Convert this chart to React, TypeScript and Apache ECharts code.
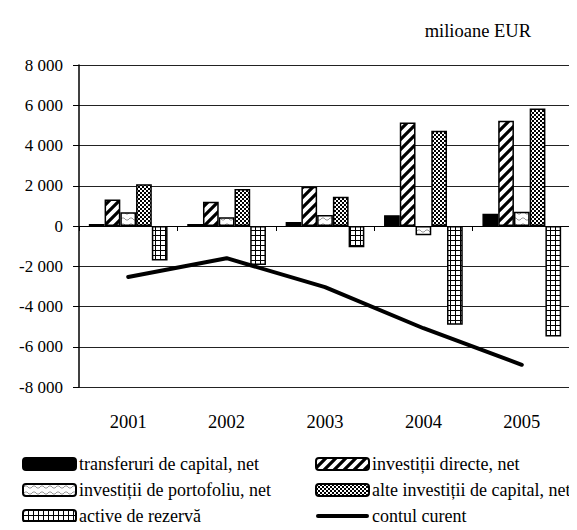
import React, { useEffect, useRef } from "react";
import * as echarts from "echarts";

const years = ["2001", "2002", "2003", "2004", "2005"];
const transferuri = [100, 100, 200, 540, 610];
const directe = [1320, 1210, 1950, 5140, 5225];
const portofoliu = [680, 430, 545, -465, 710];
const alte = [2080, 1835, 1455, 4730, 5835];
const rezerva = [-1720, -1935, -1060, -4910, -5490];
const contul = [-2530, -1600, -3040, -5080, -6895];

const legendLeft = ["transferuri de capital, net", "investiții de portofoliu, net", "active de rezervă"];
const legendRight = ["investiții directe, net", "alte investiții de capital, net", "contul curent"];

const FONT = "Liberation Serif";

function fmt(v: number): string {
  const s = Math.abs(v).toString().replace(/\B(?=(\d{3})+(?!\d))/g, " ");
  return (v < 0 ? "-" : "") + s;
}

function makePattern(w: number, h: number, draw: (c: CanvasRenderingContext2D) => void) {
  const cv = document.createElement("canvas");
  cv.width = w;
  cv.height = h;
  const ctx = cv.getContext("2d")!;
  draw(ctx);
  return { image: cv.toDataURL(), repeat: "repeat", imageWidth: w, imageHeight: h };
}

export default function App() {
  const ref = useRef<HTMLDivElement>(null);
  useEffect(() => {
    if (!ref.current) return;
    const chart = echarts.init(ref.current, null, { renderer: "svg" });

    const stripes = makePattern(10, 10, (c) => {
      c.fillStyle = "#fff";
      c.fillRect(0, 0, 10, 10);
      c.strokeStyle = "#000";
      c.lineWidth = 3.2;
      c.beginPath();
      for (const off of [-10, 0, 10]) {
        c.moveTo(off - 2, 12);
        c.lineTo(off + 12, -2);
      }
      c.stroke();
    });
    const wave = makePattern(8, 6, (c) => {
      c.fillStyle = "#fff";
      c.fillRect(0, 0, 8, 6);
      c.strokeStyle = "#9a9a9a";
      c.lineWidth = 1;
      c.beginPath();
      c.moveTo(0, 4);
      c.lineTo(2, 2);
      c.lineTo(4, 2);
      c.lineTo(6, 4);
      c.lineTo(8, 4);
      c.stroke();
    });
    const checker = makePattern(4, 4, (c) => {
      c.fillStyle = "#fff";
      c.fillRect(0, 0, 4, 4);
      c.fillStyle = "#000";
      c.fillRect(0, 0, 2, 2);
      c.fillRect(2, 2, 2, 2);
    });
    const grid = makePattern(5, 5, (c) => {
      c.fillStyle = "#000";
      c.fillRect(0, 0, 5, 5);
      c.fillStyle = "#fff";
      c.fillRect(1, 1, 4, 4);
    });

    const border = { borderColor: "#000", borderWidth: 1.5 };
    const barBase = {
      type: "bar" as const,
      barGap: "0%",
      barCategoryGap: "20%",
      xAxisIndex: 0,
    };
    const legendCommon = {
      orient: "vertical" as const,
      top: 455,
      itemWidth: 53,
      itemHeight: 12,
      itemGap: 8,
      padding: 0,
      textStyle: { fontFamily: FONT, fontSize: 18, color: "#000", padding: [0, 0, 0, -2] },
    };
    chart.setOption({
      animation: false,
      backgroundColor: "#fff",
      textStyle: { fontFamily: FONT, color: "#000" },
      title: {
        text: "milioane EUR",
        right: 41,
        top: 16,
        textStyle: { fontFamily: FONT, fontSize: 18.5, fontWeight: "normal", color: "#000" },
      },
      grid: { left: 79, right: 6, top: 65, bottom: 143 },
      legend: [
        { ...legendCommon, left: 22, data: legendLeft },
        {
          ...legendCommon,
          left: 315,
          data: [
            legendRight[0],
            legendRight[1],
            { name: legendRight[2], icon: "path://M2,0 L51,0 A2,2 0 0 1 51,4 L2,4 A2,2 0 0 1 2,0 Z" },
          ],
        },
      ],
      xAxis: [
        {
          type: "category",
          data: years,
          position: "bottom",
          axisLine: { show: false, onZero: false },
          axisTick: { show: false },
          axisLabel: { margin: 25, fontFamily: FONT, fontSize: 18.5, color: "#000" },
        },
        {
          type: "category",
          data: years,
          position: "bottom",
          axisLine: { show: true, onZero: true, lineStyle: { color: "#000", width: 1 } },
          axisTick: { show: true, length: 5, lineStyle: { color: "#000" } },
          axisLabel: { show: false },
        },
      ],
      yAxis: {
        type: "value",
        min: -8000,
        max: 8000,
        interval: 2000,
        axisLine: { show: true, lineStyle: { color: "#000", width: 1.5 } },
        axisTick: { show: true, length: 6, lineStyle: { color: "#000" } },
        splitLine: { show: true, lineStyle: { color: "#222", width: 1 } },
        axisLabel: {
          margin: 16,
          fontFamily: FONT,
          fontSize: 17,
          color: "#000",
          formatter: (v: number) => fmt(v),
        },
      },
      series: [
        { ...barBase, name: legendLeft[0], data: transferuri, itemStyle: { color: "#000", ...border } },
        { ...barBase, name: legendRight[0], data: directe, itemStyle: { color: stripes, ...border } },
        { ...barBase, name: legendLeft[1], data: portofoliu, itemStyle: { color: wave, ...border } },
        { ...barBase, name: legendRight[1], data: alte, itemStyle: { color: checker, ...border } },
        { ...barBase, name: legendLeft[2], data: rezerva, itemStyle: { color: grid, ...border } },
        {
          type: "line",
          name: legendRight[2],
          data: contul,
          xAxisIndex: 0,
          symbol: "none",
          showSymbol: false,
          z: 5,
          lineStyle: { color: "#000", width: 4, cap: "round" },
          itemStyle: { color: "#000" },
        },
      ],
    });
    return () => chart.dispose();
  }, []);
  return <div ref={ref} style={{ width: 577, height: 530, margin: -8 }} />;
}
